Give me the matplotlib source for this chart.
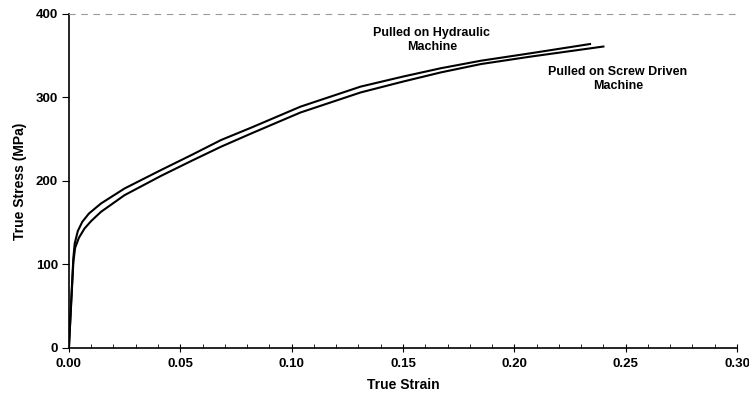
import matplotlib

matplotlib.use("Agg")
import matplotlib.pyplot as plt
from matplotlib.ticker import MultipleLocator

plt.rcParams.update({
    "font.family": ["Liberation Sans", "DejaVu Sans"],
    "font.weight": "bold",
    "font.size": 9.5,
})

# hydraulic (upper) and screw driven (lower) curves
hyd_strain = [0, 0.0010, 0.0020, 0.0026, 0.0040, 0.0060, 0.0090, 0.0144, 0.025,
              0.0413, 0.055, 0.0683, 0.082, 0.104, 0.131, 0.150, 0.167, 0.185,
              0.2075, 0.234]
hyd_stress = [0, 55, 108, 125, 140, 151, 161, 173, 191,
              213, 231, 249, 264, 289, 313, 325, 335, 344,
              353, 364]

scr_strain = [0, 0.0010, 0.0020, 0.0028, 0.0045, 0.0070, 0.0100, 0.0144, 0.025,
              0.0413, 0.055, 0.0683, 0.082, 0.104, 0.131, 0.150, 0.167, 0.185,
              0.2075, 0.240]
scr_stress = [0, 52, 103, 120, 132, 143, 152, 163, 183,
              206, 224, 241, 257, 282, 306, 319, 330, 340,
              349, 361]

x_ticks = [0.00, 0.05, 0.10, 0.15, 0.20, 0.25, 0.30]
y_ticks = [0, 100, 200, 300, 400]

fig = plt.figure(figsize=(7.49, 3.99), dpi=100)
ax = fig.add_axes([0.092, 0.128, 0.892, 0.837])

ax.plot(hyd_strain, hyd_stress, color="black", lw=1.5)
ax.plot(scr_strain, scr_stress, color="black", lw=1.5)

ax.set_xlim(0, 0.30)
ax.set_ylim(0, 400)
ax.set_xticks(x_ticks, [f"{v:.2f}" for v in x_ticks])
ax.set_yticks(y_ticks)
ax.xaxis.set_minor_locator(MultipleLocator(0.01))
ax.tick_params(axis="x", which="major", direction="inout", length=6, width=0.8, pad=4)
ax.tick_params(axis="x", which="minor", direction="in", length=3, width=0.6)
ax.tick_params(axis="y", which="major", direction="out", length=5, width=0.8, pad=3)

ax.spines["right"].set_visible(False)
ax.spines["top"].set_color("#999999")
ax.spines["top"].set_linestyle((0, (5, 6)))
ax.spines["top"].set_linewidth(0.8)
ax.spines["left"].set_linewidth(1.2)
ax.spines["bottom"].set_linewidth(1.2)

ax.set_xlabel("True Strain", fontsize=10, fontweight="bold", labelpad=6)
ax.set_ylabel("True Stress (MPa)", fontsize=10, fontweight="bold", labelpad=6)

ax.text(0.163, 369, "Pulled on Hydraulic\nMachine", ha="center", va="center",
        fontsize=9, fontweight="bold")
ax.text(0.2465, 322, "Pulled on Screw Driven\nMachine", ha="center", va="center",
        fontsize=9, fontweight="bold")

fig.savefig("out.png", dpi=100)
